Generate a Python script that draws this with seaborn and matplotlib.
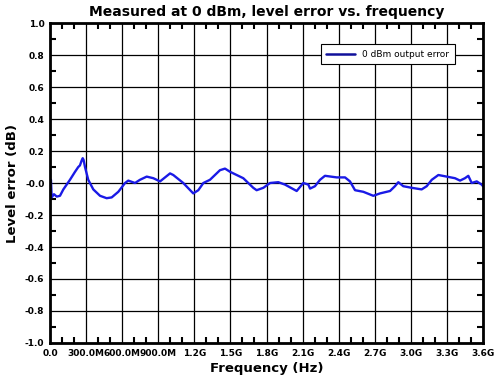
import numpy as np
import pandas as pd
import matplotlib
matplotlib.use("Agg")
import matplotlib.pyplot as plt
import matplotlib.ticker as mticker
import seaborn as sns

# Frequency (MHz) and level error (dB)
freq_mhz = [0, 8, 14, 33, 56, 83, 111, 166, 208, 235, 249, 263, 272, 279, 291,
            318, 360, 416, 471, 513, 568, 624, 651, 707, 748, 804, 859, 915,
            998, 1025, 1108, 1191, 1233, 1275, 1330, 1413, 1455, 1497, 1552,
            1607, 1690, 1718, 1774, 1829, 1898, 1954, 2051, 2106, 2148, 2162,
            2203, 2245, 2286, 2384, 2453, 2494, 2536, 2605, 2688, 2744, 2827,
            2868, 2896, 2937, 3007, 3090, 3132, 3174, 3229, 3298, 3367, 3409,
            3450, 3478, 3506, 3548, 3589, 3600]
level_err = [0.00, 0.02, -0.09, -0.07, -0.085, -0.08, -0.04, 0.02, 0.07, 0.10,
             0.11, 0.14, 0.155, 0.145, 0.10, 0.02, -0.04, -0.08, -0.095, -0.09,
             -0.055, 0.00, 0.015, 0.00, 0.02, 0.04, 0.03, 0.01, 0.06, 0.05,
             0.00, -0.065, -0.045, 0.00, 0.02, 0.08, 0.09, 0.07, 0.05, 0.03,
             -0.03, -0.045, -0.03, 0.00, 0.005, -0.01, -0.05, 0.00, -0.01,
             -0.035, -0.02, 0.02, 0.045, 0.035, 0.035, 0.01, -0.045, -0.055,
             -0.08, -0.065, -0.05, -0.02, 0.005, -0.02, -0.03, -0.04, -0.02,
             0.02, 0.05, 0.04, 0.03, 0.015, 0.03, 0.045, 0.00, 0.01, -0.01,
             -0.02]
series_name = "0 dBm output error"

x_ticks = np.arange(0, 3.6e9 + 1, 3e8)
x_tick_labels = ["0.0", "300.0M", "600.0M", "900.0M", "1.2G", "1.5G", "1.8G",
                 "2.1G", "2.4G", "2.7G", "3.0G", "3.3G", "3.6G"]

df = pd.DataFrame({"freq": np.array(freq_mhz) * 1e6, "err": level_err,
                   "series": series_name})

sns.set_style("ticks")
plt.rcParams["font.family"] = ["DejaVu Sans"]
plt.rcParams["text.color"] = "black"
plt.rcParams["axes.labelcolor"] = "black"

fig = plt.figure(figsize=(4.96, 3.86), dpi=100)
ax = fig.add_axes([50 / 496, 43 / 386, 433 / 496, 320 / 386])

sns.lineplot(data=df, x="freq", y="err", hue="series", palette=["#1a1ae6"],
             linewidth=1.7, ax=ax)

ax.set_xlim(0, 3.6e9)
ax.set_ylim(-1.0, 1.0)
ax.set_xticks(x_ticks)
ax.set_xticklabels(x_tick_labels)
ax.xaxis.set_minor_locator(mticker.MultipleLocator(1e8))
ax.set_yticks(np.arange(-1.0, 1.01, 0.2))
ax.yaxis.set_major_formatter(mticker.FormatStrFormatter("%.1f"))
ax.yaxis.set_minor_locator(mticker.MultipleLocator(0.1))

ax.grid(True, which="major", color="black", linewidth=0.9)
ax.tick_params(which="both", direction="in", top=True, right=True,
               colors="black", labelsize=6.5, width=1.5, pad=4)
ax.tick_params(which="major", length=0)
ax.tick_params(which="minor", length=4)
for lab in ax.get_xticklabels() + ax.get_yticklabels():
    lab.set_fontweight("bold")
for sp in ax.spines.values():
    sp.set_linewidth(2)
    sp.set_color("black")

ax.set_title("Measured at 0 dBm, level error vs. frequency", fontsize=10,
             fontweight="bold", color="black", pad=5)
ax.set_xlabel("Frequency (Hz)", fontsize=9.5, fontweight="bold",
              color="black", labelpad=3)
ax.set_ylabel("Level error (dB)", fontsize=9.5, fontweight="bold",
              color="black", labelpad=4)

leg = ax.legend(loc="upper right", bbox_to_anchor=(0.935, 0.933),
                borderaxespad=0, fancybox=False, framealpha=1,
                edgecolor="black", fontsize=6.5, handlelength=3.2,
                borderpad=0.6)
leg.get_frame().set_linewidth(0.8)
for t in leg.get_texts():
    t.set_color("black")
leg.get_lines()[0].set_color("#10109a")
leg.get_lines()[0].set_linewidth(1.8)

fig.savefig("out.png", dpi=100)
